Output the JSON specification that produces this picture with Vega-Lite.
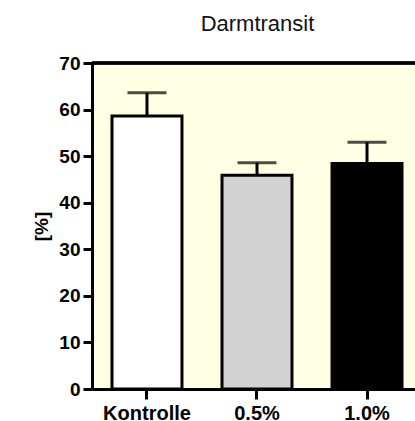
{
  "$schema": "https://vega.github.io/schema/vega-lite/v6.json",
  "width": 323,
  "height": 326,
  "autosize": {"type": "none"},
  "padding": {"left": 92, "top": 63, "right": 0, "bottom": 32},
  "background": "white",
  "title": {"text": "Darmtransit", "font": "Liberation Sans", "fontSize": 22, "fontWeight": "normal", "color": "#111", "anchor": "middle", "dx": 4, "offset": 18},
  "config": {
    "view": {"fill": "#FFFFE3", "stroke": null},
    "axis": {"grid": false, "domainColor": "black", "domainWidth": 3, "tickColor": "black", "tickWidth": 3, "tickSize": 9, "labelFont": "Liberation Sans", "labelFontWeight": "bold", "labelColor": "black", "titleFont": "Liberation Sans", "titleFontWeight": "bold", "titleColor": "black"}
  },
  "data": {"values": [
    {"group": "Kontrolle", "mean": 58.6, "upper": 63.6},
    {"group": "0.5%", "mean": 45.9, "upper": 48.6},
    {"group": "1.0%", "mean": 48.4, "upper": 53.0}
  ]},
  "encoding": {
    "x": {"field": "group", "type": "nominal", "sort": null,
      "scale": {"paddingInner": 0.364, "paddingOuter": 0.15, "align": 0.606},
      "axis": {"title": null, "labelAngle": 0, "labelFontSize": 20, "labelPadding": 4, "ticks": true, "tickSize": 10, "tickWidth": 3, "tickColor": "black", "tickOpacity": 1, "tickBand": "center", "tickExtra": false, "zindex": 1}}
  },
  "layer": [
    {"mark": {"type": "rule", "color": "black", "strokeWidth": 3},
     "encoding": {"y": {"field": "mean", "type": "quantitative"}, "y2": {"field": "upper"}}},
    {"mark": {"type": "tick", "color": "black", "thickness": 3, "size": 39},
     "encoding": {"y": {"field": "upper", "type": "quantitative"}}},
    {"mark": {"type": "bar", "stroke": "black", "strokeWidth": 3},
     "encoding": {
       "y": {"field": "mean", "type": "quantitative", "scale": {"domain": [0, 70]},
         "axis": {"title": "[%]", "titleFontSize": 19, "labelFontSize": 19, "values": [0,10,20,30,40,50,60,70], "labelPadding": 3, "titlePadding": 7}},
       "fill": {"field": "group", "type": "nominal", "sort": null, "scale": {"domain": ["Kontrolle", "0.5%", "1.0%"], "range": ["#FFFFFF", "#D3D3D3", "#000000"]}, "legend": null}
     }},
    {"mark": {"type": "rule", "color": "black", "strokeWidth": 3},
     "encoding": {"x": {"value": 0}, "x2": {"value": "width"}, "y": {"datum": 70, "type": "quantitative"}}}
  ]
}
